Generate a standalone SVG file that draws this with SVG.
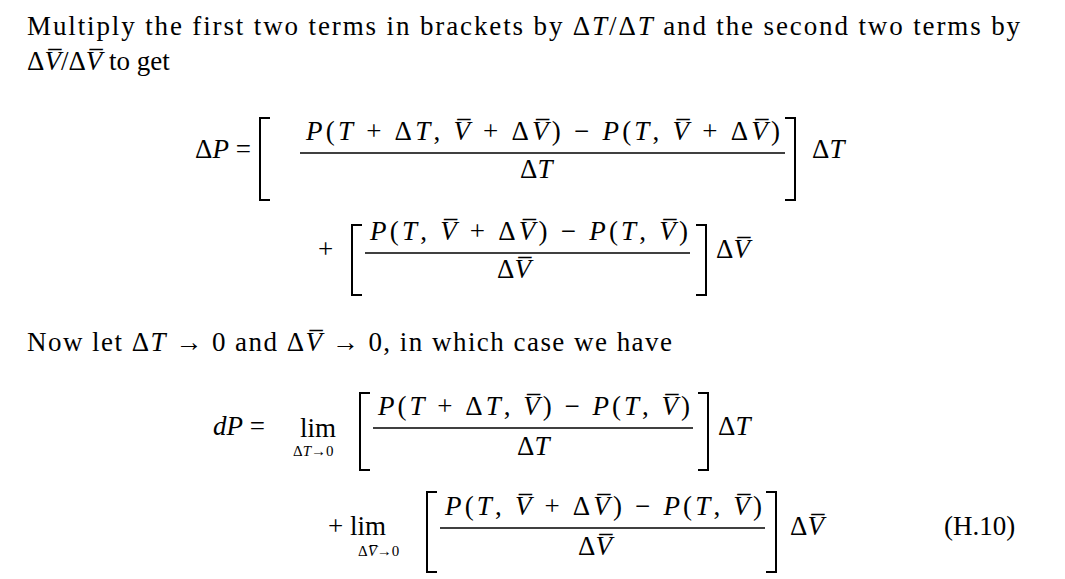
<svg xmlns="http://www.w3.org/2000/svg" width="1065" height="579" viewBox="0 0 1065 579">
<style>
text{font-family:"Liberation Serif",serif;font-size:27px;fill:#000}
.i{font-style:italic}
.s{font-size:15px}
.b{fill:none;stroke:#000;stroke-width:2}
.f{stroke:#000;stroke-width:1.5}
</style>
<rect width="1065" height="579" fill="#fff"/>
<text x="27" y="35" textLength="993" lengthAdjust="spacing">Multiply the first two terms in brackets by Δ<tspan class="i">T</tspan>/Δ<tspan class="i">T</tspan> and the second two terms by</text>
<text x="27" y="70">Δ<tspan class="i">V̅</tspan>/Δ<tspan class="i">V̅</tspan> to get</text>
<g id="eq1">
<text x="195" y="158">Δ<tspan class="i">P</tspan> =</text>
<path class="b" d="M270,118 H260 V200 H270"/>
<text x="306" y="140" textLength="474" lengthAdjust="spacing"><tspan class="i">P</tspan>(<tspan class="i">T</tspan> + Δ<tspan class="i">T</tspan>, <tspan class="i">V̅</tspan> + Δ<tspan class="i">V̅</tspan>) − <tspan class="i">P</tspan>(<tspan class="i">T</tspan>, <tspan class="i">V̅</tspan> + Δ<tspan class="i">V̅</tspan>)</text>
<line class="f" x1="300" y1="153" x2="785" y2="153"/>
<text x="520" y="178">Δ<tspan class="i">T</tspan></text>
<path class="b" d="M785,118 H795 V200 H785"/>
<text x="812" y="158">Δ<tspan class="i">T</tspan></text>
</g>
<g id="eq2">
<text x="318" y="258">+</text>
<path class="b" d="M362,225 H352 V295 H362"/>
<text x="370" y="240" textLength="318" lengthAdjust="spacing"><tspan class="i">P</tspan>(<tspan class="i">T</tspan>, <tspan class="i">V̅</tspan> + Δ<tspan class="i">V̅</tspan>) − <tspan class="i">P</tspan>(<tspan class="i">T</tspan>, <tspan class="i">V̅</tspan>)</text>
<line class="f" x1="365" y1="253" x2="690" y2="253"/>
<text x="497" y="278">Δ<tspan class="i">V̅</tspan></text>
<path class="b" d="M696,225 H706 V295 H696"/>
<text x="716" y="258">Δ<tspan class="i">V̅</tspan></text>
</g>
<text x="27" y="351" textLength="645" lengthAdjust="spacing">Now let Δ<tspan class="i">T</tspan> → 0 and Δ<tspan class="i">V̅</tspan> → 0, in which case we have</text>
<g id="eq3">
<text x="213" y="435"><tspan class="i">dP</tspan> =</text>
<text x="300" y="437">lim</text>
<text class="s" x="293" y="456">Δ<tspan class="i">T</tspan>→0</text>
<path class="b" d="M370,393 H360 V470 H370"/>
<text x="378" y="415" textLength="312" lengthAdjust="spacing"><tspan class="i">P</tspan>(<tspan class="i">T</tspan> + Δ<tspan class="i">T</tspan>, <tspan class="i">V̅</tspan>) − <tspan class="i">P</tspan>(<tspan class="i">T</tspan>, <tspan class="i">V̅</tspan>)</text>
<line class="f" x1="373" y1="428" x2="693" y2="428"/>
<text x="517" y="455">Δ<tspan class="i">T</tspan></text>
<path class="b" d="M698,393 H708 V470 H698"/>
<text x="718" y="435">Δ<tspan class="i">T</tspan></text>
</g>
<g id="eq4">
<text x="328" y="535">+ lim</text>
<text class="s" x="358" y="556">Δ<tspan class="i">V̅</tspan>→0</text>
<path class="b" d="M437,492 H427 V572 H437"/>
<text x="445" y="515" textLength="317" lengthAdjust="spacing"><tspan class="i">P</tspan>(<tspan class="i">T</tspan>, <tspan class="i">V̅</tspan> + Δ<tspan class="i">V̅</tspan>) − <tspan class="i">P</tspan>(<tspan class="i">T</tspan>, <tspan class="i">V̅</tspan>)</text>
<line class="f" x1="440" y1="528" x2="765" y2="528"/>
<text x="578" y="555">Δ<tspan class="i">V̅</tspan></text>
<path class="b" d="M766,492 H776 V572 H766"/>
<text x="790" y="535">Δ<tspan class="i">V̅</tspan></text>
<text x="944" y="535">(H.10)</text>
</g>
</svg>
